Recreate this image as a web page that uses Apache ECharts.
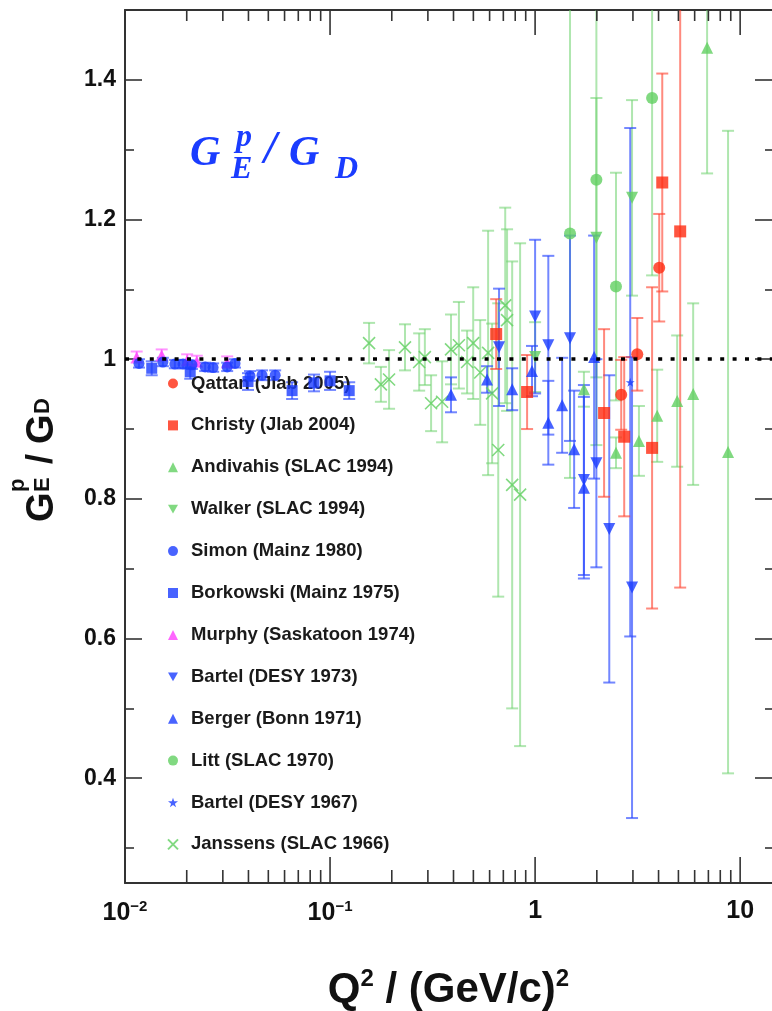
<!DOCTYPE html>
<html>
<head>
<meta charset="utf-8">
<script src="https://cdn.jsdelivr.net/npm/echarts@6/dist/echarts.min.js"></script>
<style>
html, body { margin: 0; padding: 0; background: #fff; }
#chart { width: 772px; height: 1011px; }
</style>
</head>
<body>
<div id="chart"></div>
<script>
// each point: [Q2, GE/GD, error]
var qattan = [[2.63, 0.949, 0.05], [3.15, 1.007, 0.052], [4.03, 1.131, 0.077]];
var christy = [[0.646, 1.036, 0.05], [0.914, 0.953, 0.053], [2.17, 0.923, 0.12], [2.72, 0.889, 0.114],
    [3.72, 0.873, 0.23], [4.17, 1.253, 0.156], [5.10, 1.183, 0.51]];
var andivahis = [[1.73, 0.957, 0.025], [2.48, 0.866, 0.022], [3.21, 0.883, 0.05], [3.94, 0.919, 0.066],
    [4.93, 0.94, 0.094], [5.90, 0.95, 0.13], [6.90, 1.446, 0.18], [8.73, 0.867, 0.46]];
var walker = [[1.0, 1.003, 0.05], [1.99, 1.174, 0.2], [2.97, 1.231, 0.14]];
var simon = [[0.0117, 0.994, 0.006], [0.0153, 0.996, 0.006], [0.0175, 0.993, 0.006], [0.0192, 0.993, 0.006],
    [0.0212, 0.992, 0.006], [0.0246, 0.989, 0.006], [0.0269, 0.988, 0.006], [0.0315, 0.989, 0.006],
    [0.0344, 0.994, 0.006], [0.0407, 0.976, 0.007], [0.0466, 0.977, 0.007], [0.054, 0.977, 0.007]];
var borkowski = [[0.0135, 0.987, 0.01], [0.0208, 0.982, 0.01], [0.0398, 0.968, 0.012], [0.0653, 0.955, 0.012],
    [0.0835, 0.966, 0.012], [0.1, 0.969, 0.013], [0.124, 0.955, 0.012]];
var murphy = [[0.0114, 1.003, 0.008], [0.0151, 1.006, 0.008], [0.0201, 0.999, 0.008], [0.0224, 0.997, 0.008],
    [0.0315, 0.996, 0.008]];
var bartel73 = [[0.667, 1.017, 0.084], [1.0, 1.061, 0.11], [1.16, 1.02, 0.128], [1.48, 1.03, 0.147],
    [1.73, 0.827, 0.136], [1.99, 0.851, 0.149], [2.30, 0.757, 0.22], [2.97, 0.673, 0.33]];
var berger = [[0.389, 0.949, 0.025], [0.583, 0.971, 0.019], [0.773, 0.957, 0.03], [0.966, 0.983, 0.036],
    [1.16, 0.909, 0.06], [1.355, 0.934, 0.068], [1.55, 0.871, 0.084], [1.73, 0.816, 0.13], [1.94, 1.003, 0.174]];
var litt = [[1.48, 1.18, 0.35], [1.99, 1.257, 0.38], [2.48, 1.104, 0.163], [3.72, 1.374, 0.254]];
var bartel67 = [[2.91, 0.967, 0.364]];
var janssens = [[0.155, 1.023, 0.029], [0.177, 0.964, 0.025], [0.194, 0.971, 0.042], [0.232, 1.017, 0.033],
    [0.272, 0.996, 0.041], [0.29, 1.003, 0.04], [0.311, 0.937, 0.04], [0.352, 0.939, 0.058],
    [0.389, 1.014, 0.05], [0.425, 1.02, 0.062], [0.466, 0.996, 0.045], [0.499, 1.023, 0.08],
    [0.54, 0.981, 0.075], [0.59, 1.009, 0.175], [0.617, 0.951, 0.1], [0.661, 0.87, 0.21],
    [0.715, 1.077, 0.14], [0.73, 1.056, 0.13], [0.773, 0.82, 0.32], [0.845, 0.806, 0.36]];

var xMajorTicks = [0.01, 0.1, 1, 10];
var xMinorTicks = [0.02, 0.03, 0.04, 0.05, 0.06, 0.07, 0.08, 0.09,
    0.2, 0.3, 0.4, 0.5, 0.6, 0.7, 0.8, 0.9,
    2, 3, 4, 5, 6, 7, 8, 9];
var yMajorTicks = [0.4, 0.6, 0.8, 1, 1.2, 1.4];
var yMinorTicks = [0.3, 0.5, 0.7, 0.9, 1.1, 1.3];

var RED = '#ff2a10', RED_BAR = 'rgba(255,60,40,0.6)';
var GREEN = '#62d062', GREEN_BAR = 'rgba(110,210,110,0.55)';
var BLUE = '#1a3cff', BLUE_BAR = 'rgba(40,70,255,0.65)';
var MAGENTA = '#ff40ff', MAGENTA_BAR = 'rgba(255,80,255,0.6)';
var FONT = '"Liberation Sans", Arial, sans-serif';
var SERIF = '"Liberation Serif", serif';

var TRI_DOWN = 'path://M0,0L10,0L5,8.7Z';
var STAR = 'path://M5,0L6.2,3.6L10,3.6L6.9,5.9L8.1,9.5L5,7.3L1.9,9.5L3.1,5.9L0,3.6L3.8,3.6Z';
var CROSS = 'path://M0,0L10,10M10,0L0,10';

var chart = echarts.init(document.getElementById('chart'));

function errSeries(data, color) {
    return {
        type: 'custom',
        data: data,
        encode: { x: 0, y: 1 },
        silent: true,
        z: 2,
        renderItem: function (params, api) {
            var cs = params.coordSys;
            var x = api.value(0), y = api.value(1), e = api.value(2);
            var hi = api.coord([x, y + e]), lo = api.coord([x, y - e]);
            var top = cs.y, bot = cs.y + cs.height;
            var y1 = Math.max(hi[1], top), y2 = Math.min(lo[1], bot);
            var st = { stroke: color, lineWidth: 2 };
            var kids = [{ type: 'line', shape: { x1: hi[0], y1: y1, x2: hi[0], y2: y2 }, style: st }];
            if (hi[1] >= top) kids.push({ type: 'line', shape: { x1: hi[0] - 6, y1: hi[1], x2: hi[0] + 6, y2: hi[1] }, style: st });
            if (lo[1] <= bot) kids.push({ type: 'line', shape: { x1: lo[0] - 6, y1: lo[1], x2: lo[0] + 6, y2: lo[1] }, style: st });
            return { type: 'group', children: kids };
        }
    };
}

function markSeries(name, data, symbol, color, size, hollow) {
    return {
        type: 'scatter',
        name: name,
        data: data.map(function (d) { return [d[0], d[1]]; }),
        symbol: symbol,
        symbolSize: size,
        z: 4,
        itemStyle: hollow ? { color: 'rgba(0,0,0,0)', borderColor: color, borderWidth: 1.6 } : { color: color }
    };
}

var tickData = xMajorTicks.map(function (v) { return [v, 1]; })
    .concat(xMinorTicks.map(function (v) { return [v, 0]; }));

var series = [
    {
        type: 'custom',
        data: tickData,
        silent: true,
        z: 5,
        renderItem: function (params, api) {
            var cs = params.coordSys;
            var x = api.coord([api.value(0), 1])[0];
            var major = api.value(1) === 1;
            var top = cs.y, bot = cs.y + cs.height;
            var st = { stroke: '#333', lineWidth: 1.6 };
            return {
                type: 'group', children: [
                    { type: 'line', shape: { x1: x, y1: bot, x2: x, y2: bot - (major ? 26 : 13) }, style: st },
                    { type: 'line', shape: { x1: x, y1: top, x2: x, y2: top + (major ? 25 : 11) }, style: st }
                ]
            };
        }
    },
    errSeries(janssens, GREEN_BAR),
    errSeries(litt, GREEN_BAR),
    errSeries(andivahis, GREEN_BAR),
    errSeries(walker, GREEN_BAR),
    errSeries(berger, BLUE_BAR),
    errSeries(bartel73, BLUE_BAR),
    errSeries(bartel67, BLUE_BAR),
    errSeries(borkowski, BLUE_BAR),
    errSeries(simon, BLUE_BAR),
    errSeries(murphy, MAGENTA_BAR),
    errSeries(christy, RED_BAR),
    errSeries(qattan, RED_BAR),
    markSeries('Janssens (SLAC 1966)', janssens, CROSS, GREEN, 12, true),
    markSeries('Litt (SLAC 1970)', litt, 'circle', GREEN, 12),
    markSeries('Andivahis (SLAC 1994)', andivahis, 'triangle', GREEN, 12),
    markSeries('Walker (SLAC 1994)', walker, TRI_DOWN, GREEN, 12),
    markSeries('Berger (Bonn 1971)', berger, 'triangle', BLUE, 12),
    markSeries('Bartel (DESY 1973)', bartel73, TRI_DOWN, BLUE, 12),
    markSeries('Bartel (DESY 1967)', bartel67, STAR, BLUE, 9),
    markSeries('Borkowski (Mainz 1975)', borkowski, 'rect', BLUE, 11),
    markSeries('Murphy (Saskatoon 1974)', murphy, 'triangle', MAGENTA, 11),
    markSeries('Simon (Mainz 1980)', simon, 'circle', BLUE, 11),
    markSeries('Christy (Jlab 2004)', christy, 'rect', RED, 12),
    markSeries('Qattan (Jlab 2005)', qattan, 'circle', RED, 12)
];

// dotted reference line at 1
series[1].markLine = {
    silent: true,
    symbol: 'none',
    label: { show: false },
    lineStyle: { color: '#000', type: [4, 8.4], width: 3.5 },
    data: [{ yAxis: 1 }]
};

function yAxisDef(pos, ticks, len, labels) {
    return {
        type: 'value',
        position: pos,
        min: 0.25,
        max: 1.5,
        splitLine: { show: false },
        axisLine: { show: pos === 'left' && labels, onZero: false, lineStyle: { color: '#333', width: 2 } },
        axisTick: { inside: true, length: len, customValues: ticks, lineStyle: { color: '#333', width: 1.6 } },
        axisLabel: {
            show: labels,
            customValues: ticks,
            margin: 9,
            color: '#111',
            fontFamily: FONT,
            fontWeight: 'bold',
            fontSize: 23,
            formatter: function (v) { return Math.abs(v - 1) < 1e-6 ? '1' : v.toFixed(1); }
        }
    };
}

function txt(x, y, s, font, color) {
    return { type: 'text', x: x, y: y, style: { text: s, font: font, fill: color } };
}

var option = {
    backgroundColor: '#fff',
    animation: false,
    grid: { left: 125, right: 0, top: 10, bottom: 128, outerBoundsMode: 'none', containLabel: false },
    xAxis: [{
        type: 'log',
        min: 0.01,
        max: 14.3,
        position: 'bottom',
        splitLine: { show: false },
        axisTick: { show: false },
        axisLine: { onZero: false, lineStyle: { color: '#333', width: 2 } },
        axisLabel: {
            margin: 16,
            color: '#111',
            fontFamily: FONT,
            fontWeight: 'bold',
            fontSize: 25,
            showMaxLabel: false,
            formatter: function (v) {
                var e = Math.log(v) / Math.LN10;
                var r = Math.round(e);
                if (Math.abs(e - r) > 0.01) return '';
                if (r === 0) return '1';
                if (r === 1) return '10';
                return '{b|10}{s|' + (r < 0 ? '\u2212' : '') + Math.abs(r) + '}';
            },
            rich: {
                b: { fontFamily: FONT, fontWeight: 'bold', fontSize: 25, color: '#111' },
                s: { fontFamily: FONT, fontWeight: 'bold', fontSize: 15, color: '#111', padding: [0, 0, 14, 0] }
            }
        },
        name: '{q|Q}{s|2}{q| / (GeV/c)}{s|2}',
        nameLocation: 'middle',
        nameGap: 84,
        nameTextStyle: {
            rich: {
                q: { fontFamily: FONT, fontWeight: 'bold', fontSize: 42, color: '#111' },
                s: { fontFamily: FONT, fontWeight: 'bold', fontSize: 24, color: '#111', padding: [0, 0, 23, 0] }
            }
        }
    }, {
        type: 'log',
        min: 0.01,
        max: 14.3,
        position: 'top',
        splitLine: { show: false },
        axisTick: { show: false },
        axisLabel: { show: false },
        axisLine: { onZero: false, lineStyle: { color: '#333', width: 2 } }
    }],
    yAxis: [
        yAxisDef('left', yMajorTicks, 17, true),
        yAxisDef('left', yMinorTicks, 9, false),
        yAxisDef('right', yMajorTicks, 17, false),
        yAxisDef('right', yMinorTicks, 7, false)
    ],
    legend: {
        orient: 'vertical',
        left: 162,
        top: 369,
        itemWidth: 10,
        itemHeight: 10,
        itemGap: 22.9,
        selectedMode: false,
        textStyle: { fontFamily: FONT, fontWeight: 'bold', fontSize: 18.5, color: '#1a1a1a', lineHeight: 10, padding: [0, 0, 0, 8] },
        data: ['Qattan (Jlab 2005)', 'Christy (Jlab 2004)', 'Andivahis (SLAC 1994)', 'Walker (SLAC 1994)',
            'Simon (Mainz 1980)', 'Borkowski (Mainz 1975)', 'Murphy (Saskatoon 1974)', 'Bartel (DESY 1973)',
            'Berger (Bonn 1971)', 'Litt (SLAC 1970)', 'Bartel (DESY 1967)', 'Janssens (SLAC 1966)']
    },
    graphic: [
        // y-axis title, rotated to read bottom-up
        {
            type: 'group', x: 24, y: 522, rotation: Math.PI / 2, silent: true,
            children: [
                txt(0, 0, 'G', 'bold 38px ' + FONT, '#111'),
                txt(30, -17, 'p', 'bold 22px ' + FONT, '#111'),
                txt(30, 8, 'E', 'bold 22px ' + FONT, '#111'),
                txt(58, 0, '/', 'bold 36px ' + FONT, '#111'),
                txt(78, 0, 'G', 'bold 38px ' + FONT, '#111'),
                txt(108, 8, 'D', 'bold 22px ' + FONT, '#111')
            ]
        },
        // blue inset label
        {
            type: 'group', x: 0, y: 0, silent: true,
            children: [
                txt(190, 133, 'G', 'italic bold 42px ' + SERIF, BLUE),
                txt(236, 122, 'p', 'italic bold 32px ' + SERIF, BLUE),
                txt(231, 154, 'E', 'italic bold 32px ' + SERIF, BLUE),
                txt(264, 128, '/', 'italic bold 46px ' + SERIF, BLUE),
                txt(289, 133, 'G', 'italic bold 42px ' + SERIF, BLUE),
                txt(335, 154, 'D', 'italic bold 32px ' + SERIF, BLUE)
            ]
        }
    ],
    series: series
};

chart.setOption(option);
</script>
</body>
</html>
